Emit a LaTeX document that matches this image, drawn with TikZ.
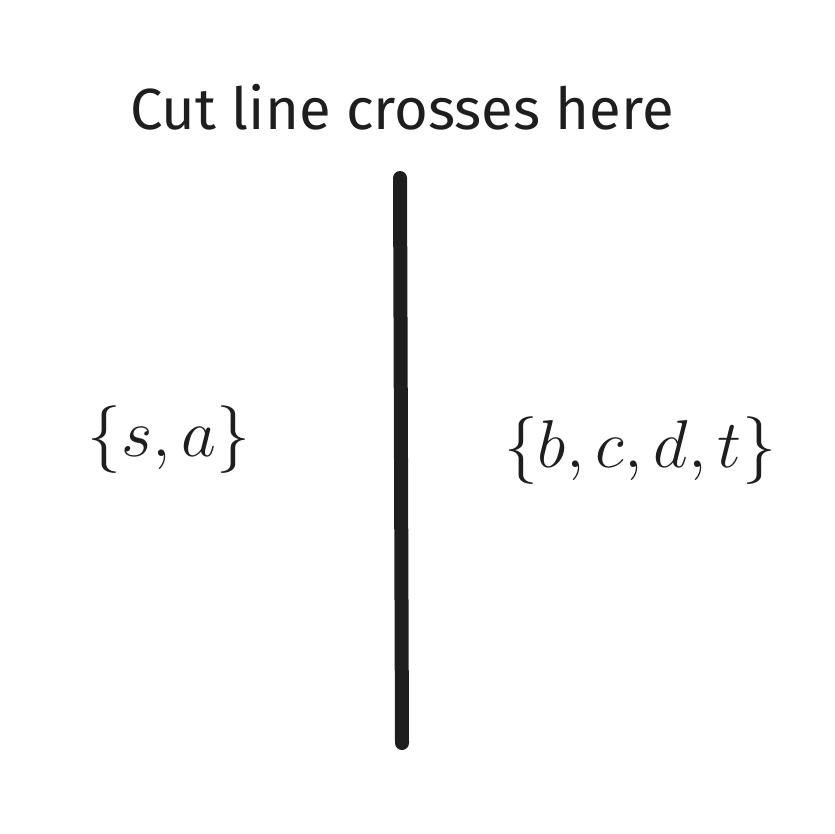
\documentclass[tikz,border=0pt]{standalone}
\usepackage{graphicx}
\usepackage{fontspec}
\setsansfont{Fira Sans}
\definecolor{inkgray}{HTML}{1E1E1E}
\newcommand{\bigset}[1]{\scalebox{1.36}{$#1$}}
\tikzset{
  settext/.style={inner sep=0pt, text=inkgray, font=\fontsize{24.88}{30}\selectfont},
  titletext/.style={inner sep=0pt, text=inkgray, font=\sffamily\fontsize{29}{34}\selectfont},
  cutline/.style={draw=inkgray, line width=7pt, line cap=round}
}
\begin{document}
\begin{tikzpicture}[x=0.5pt, y=-0.5pt]
        \useasboundingbox (0,0) rectangle (834,834);
        %% Title
        \node[titletext] (title) at (402,107) {Cut line crosses here};
        %% Cut line
        \coordinate (cuttop) at (400,178);
        \coordinate (cutbottom) at (402,743);
        \draw[cutline] (cuttop) -- (cutbottom);
        %% Sides
        \node[settext] (left) at (169,440) {\bigset{\{s,a\}}};
        \node[settext] (right) at (640,451) {\bigset{\{b,c,d,t\}}};
    \end{tikzpicture}
\end{document}
